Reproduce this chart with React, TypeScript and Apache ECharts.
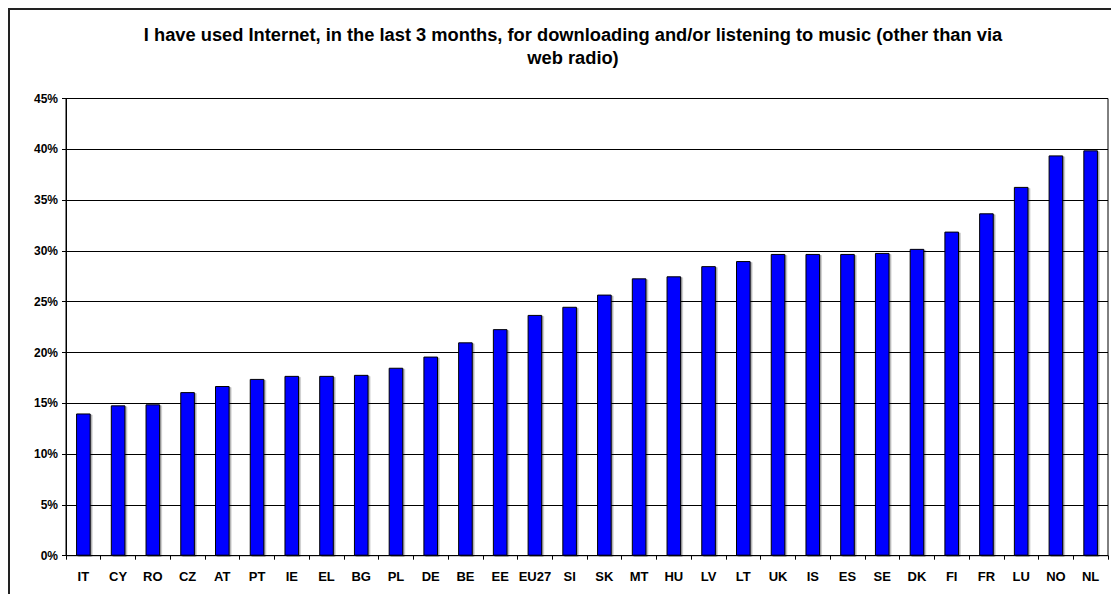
import React, { useEffect, useRef } from "react";
import * as echarts from "echarts";

const titleText =
  "I have used Internet, in the last 3 months, for downloading and/or listening to music (other than via\nweb radio)";

const countries = [
  "IT", "CY", "RO", "CZ", "AT", "PT", "IE", "EL", "BG", "PL",
  "DE", "BE", "EE", "EU27", "SI", "SK", "MT", "HU", "LV", "LT",
  "UK", "IS", "ES", "SE", "DK", "FI", "FR", "LU", "NO", "NL",
];

const shares = [
  14.0, 14.8, 14.9, 16.1, 16.7, 17.4, 17.7, 17.7, 17.8, 18.5,
  19.6, 21.0, 22.3, 23.7, 24.5, 25.7, 27.3, 27.5, 28.5, 29.0,
  29.7, 29.7, 29.7, 29.8, 30.2, 31.9, 33.7, 36.3, 39.4, 39.9,
];

const yMin = 0;
const yMax = 45;
const yStep = 5;

export default function App() {
  const ref = useRef<HTMLDivElement>(null);

  useEffect(() => {
    if (!ref.current) return;
    const chart = echarts.init(ref.current, undefined, { renderer: "svg" });
    chart.setOption({
      animation: false,
      backgroundColor: "#ffffff",
      textStyle: { fontFamily: "Liberation Sans, Arial, sans-serif" },
      graphic: [
        {
          type: "rect",
          shape: { x: 1, y: 1, width: 1300, height: 800 },
          style: { fill: "none", stroke: "#222", lineWidth: 2 },
          silent: true,
          z: 100,
        },
      ],
      title: {
        text: titleText,
        left: 560,
        textAlign: "center",
        top: 10,
        textStyle: {
          fontFamily: "Liberation Sans, Arial, sans-serif",
          fontSize: 18.3,
          fontWeight: "bold",
          color: "#000",
          lineHeight: 23,
        },
      },
      grid: {
        left: 58,
        right: 11,
        top: 90.5,
        bottom: 38.3,
        show: true,
        borderColor: "#000",
        borderWidth: 1,
        containLabel: false,
      },
      xAxis: {
        type: "category",
        data: countries,
        axisLine: { show: true, lineStyle: { color: "#000", width: 1 } },
        axisTick: { show: true, alignWithLabel: false, length: 4, lineStyle: { color: "#000" } },
        axisLabel: {
          color: "#000",
          fontSize: 13,
          fontWeight: "bold",
          margin: 14,
          interval: 0,
          fontFamily: "Liberation Sans, Arial, sans-serif",
        },
      },
      yAxis: {
        type: "value",
        min: yMin,
        max: yMax,
        interval: yStep,
        axisLine: { show: true, lineStyle: { color: "#000", width: 1 } },
        axisTick: { show: true, length: 4, lineStyle: { color: "#000" } },
        axisLabel: {
          color: "#000",
          fontSize: 12,
          fontWeight: "bold",
          margin: 8,
          formatter: (v: number) => `${v}%`,
          fontFamily: "Liberation Sans, Arial, sans-serif",
        },
        splitLine: { show: true, lineStyle: { color: "#000", width: 1 } },
      },
      series: [
        {
          type: "bar",
          data: shares,
          barCategoryGap: "58%",
          itemStyle: {
            color: "#0000ff",
            borderColor: "#000",
            borderWidth: 1,
            shadowColor: "rgba(0,0,0,0.35)",
            shadowOffsetX: 1.5,
            shadowOffsetY: 1,
            shadowBlur: 0,
          },
          label: { show: false },
        },
      ],
    });
    return () => chart.dispose();
  }, []);

  return <div ref={ref} style={{ width: 1111, height: 586 }} />;
}
